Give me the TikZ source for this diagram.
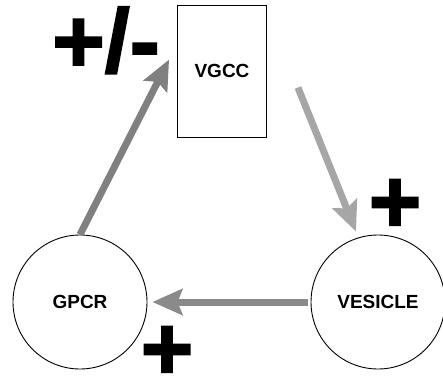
\documentclass[tikz,border=0pt]{standalone}
\usepackage{fontspec}
\setmainfont{Liberation Sans}
\newfontfamily\signfont[FakeBold=2]{Liberation Sans Bold}
\usetikzlibrary{arrows.meta}
\usetikzlibrary{calc}
\definecolor{flowdark}{RGB}{128,128,128}
\definecolor{flowmid}{RGB}{138,138,138}
\definecolor{flowlight}{RGB}{166,166,166}
\tikzstyle{receptor}=[circle, draw=black, line width=0.9pt, minimum size=134pt,
    inner sep=0pt, font=\fontsize{19}{21}\selectfont\bfseries]
\tikzstyle{channel}=[rectangle, draw=black, line width=0.9pt, minimum width=89pt,
    minimum height=132pt, inner sep=0pt, font=\fontsize{19}{21}\selectfont\bfseries]
\tikzstyle{sign}=[inner sep=0pt, font=\signfont\fontsize{90}{90}\selectfont]
\tikzstyle{flow}=[line width=7pt, -{Stealth[length=30pt,width=26pt,inset=5pt]}]

\begin{document}
\begin{tikzpicture}[x=1pt,y=-1pt]
          \useasboundingbox (0,0) rectangle (443,379);
          \node[channel] (vgcc) at (222,71){VGCC};
          \node[receptor] (gpcr) at (80,302){GPCR};
          \node[receptor] (vesicle) at (378,302){VESICLE};
          \node[sign, anchor=base west] (sign0) at (52,72){+/-};
          \node[sign] (sign1) at (395,206){+};
          \node[sign] (sign2) at (167,353){+};
          \draw[flow, draw=flowdark, fill=flowdark](gpcr.north) -- ($(vgcc.north west)+(-8,55)$);
          \draw[flow, draw=flowlight, fill=flowlight]($(vgcc.north east)+(31,83)$) -- ($(vesicle.north)+(-22,-3)$);
          \draw[flow, draw=flowmid, fill=flowmid]($(vesicle.west)+(-3,0)$) -- ($(gpcr.east)+(5,0)$);
        \end{tikzpicture}
\end{document}
